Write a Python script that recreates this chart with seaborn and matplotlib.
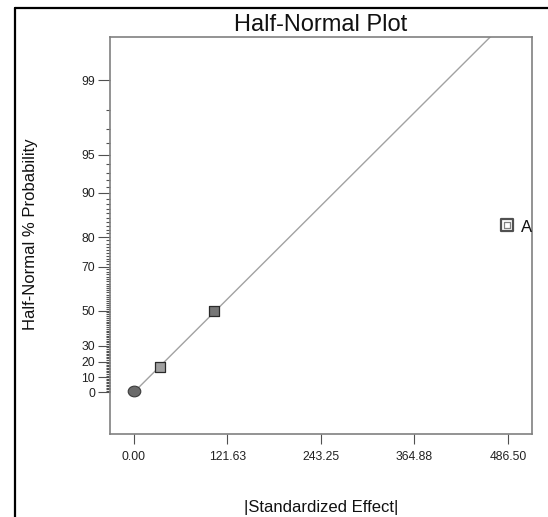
import numpy as np
import pandas as pd
import matplotlib
matplotlib.use("Agg")
import matplotlib.pyplot as plt
import seaborn as sns
from matplotlib.scale import FuncScale
from matplotlib.ticker import FixedLocator, FixedFormatter
from matplotlib.lines import Line2D
from matplotlib.path import Path
from statistics import NormalDist

# ---- data ----
effects = [0.0, 34.7, 104.1]          # |standardized effect| of non-significant terms
probs = [1.2, 16.7, 50.0]             # half-normal % probability
point_kind = ["error", "term", "term"]
sig_effects = [485.7]
sig_probs = [83.3]
sig_labels = ["A"]
line_x = [0.0, 485.0]
line_p = [0.0, 99.785]

x_ticks = [0.00, 121.63, 243.25, 364.88, 486.50]
y_major = [0, 10, 20, 30, 50, 70, 80, 90, 95, 99]
y_minor = [v for v in range(1, 99) if v not in y_major]

sns.set_theme(style="white")
plt.rcParams['font.family'] = ['Liberation Sans', 'DejaVu Sans']

nd = NormalDist()
_ppf = np.vectorize(lambda p: nd.inv_cdf(min(max(0.5 + p / 200.0, 1e-9), 1 - 1e-9)),
                    otypes=[float])
_cdf = np.vectorize(lambda z: 200.0 * nd.cdf(z) - 100.0, otypes=[float])


def fwd(p):
    return _ppf(np.asarray(p, dtype=float))


def inv(z):
    return _cdf(np.asarray(z, dtype=float))


fig = plt.figure(figsize=(5.48, 5.17), dpi=100)
ax = fig.add_axes([109.5 / 548, 1 - 434 / 517, (532 - 109.5) / 548, (434 - 37) / 517])
ax.set_yscale(FuncScale(ax, (fwd, inv)))

df_line = pd.DataFrame({"x": line_x, "p": line_p})
sns.lineplot(data=df_line, x="x", y="p", ax=ax, color="#a2a2a2", linewidth=1.0, zorder=1)

uc = Path.unit_circle()
ellipse = Path(uc.vertices * np.array([1.0, 0.85]), uc.codes)

df = pd.DataFrame({"x": effects, "p": probs, "kind": point_kind})
err = df[df.kind == "error"]
trm = df[df.kind == "term"]
sns.scatterplot(data=err, x="x", y="p", ax=ax, marker=ellipse, s=82, color="#6a6a6a",
                edgecolor="#3a3a3a", linewidth=0.8, zorder=3)
sns.scatterplot(data=trm.iloc[:1], x="x", y="p", ax=ax, marker="s", s=48, color="#a0a0a0",
                edgecolor="#2a2a2a", linewidth=0.9, zorder=3)
sns.scatterplot(data=trm.iloc[1:], x="x", y="p", ax=ax, marker="s", s=48, color="#767676",
                edgecolor="#2a2a2a", linewidth=0.9, zorder=3)

df_sig = pd.DataFrame({"x": sig_effects, "p": sig_probs, "lab": sig_labels})
sns.scatterplot(data=df_sig, x="x", y="p", ax=ax, marker="s", s=72, color="white",
                edgecolor="#505050", linewidth=1.6, zorder=3)
sns.scatterplot(data=df_sig, x="x", y="p", ax=ax, marker="s", s=22, color="white",
                edgecolor="#808080", linewidth=0.9, zorder=4)
for _, r in df_sig.iterrows():
    ax.annotate(r.lab, (r.x, r.p), xytext=(10, -2), textcoords="offset points",
                ha="left", va="center", fontsize=12, color="#111111")

ax.set_xlim(-31.6, 517.7)
ax.set_ylim(-26.9, 99.663)

ax.xaxis.set_major_locator(FixedLocator(x_ticks))
ax.xaxis.set_major_formatter(FixedFormatter([f"{v:.2f}" for v in x_ticks]))
ax.yaxis.set_major_locator(FixedLocator(y_major))
ax.yaxis.set_major_formatter(FixedFormatter([str(v) for v in y_major]))
ax.yaxis.set_minor_locator(FixedLocator(y_minor))
ax.xaxis.set_minor_locator(FixedLocator([]))

ax.tick_params(axis="both", which="major", direction="out", width=0.8,
               color="#505050", labelsize=8.7, labelcolor="#222222")
ax.tick_params(axis="x", which="major", length=7.5, pad=5, bottom=True)
ax.tick_params(axis="y", which="major", length=8.5, pad=2, left=True)
ax.tick_params(axis="y", which="minor", direction="out", length=3.1, width=0.8,
               color="#505050", left=True)

for s in ax.spines.values():
    s.set_color("#808080")
    s.set_linewidth(1.2)
    s.set_visible(True)

ax.set_xlabel("|Standardized Effect|", fontsize=12, color="#111111")
ax.xaxis.set_label_coords(0.5, -(512 - 434) / 397)
ax.xaxis.label.set_verticalalignment("baseline")
ax.set_ylabel("Half-Normal % Probability", fontsize=12, color="#111111")
ax.yaxis.set_label_coords(-(109.5 - 31) / 422.5, 0.504)
ax.yaxis.label.set_verticalalignment("center")
ax.set_title("Half-Normal Plot", fontsize=17, color="#111111", pad=4)

fig.add_artist(Line2D([15 / 548, 1.0], [1 - 7.5 / 517] * 2, color="black", linewidth=1.6,
                      transform=fig.transFigure))
fig.add_artist(Line2D([15 / 548] * 2, [0.0, 1 - 7.5 / 517], color="black", linewidth=1.6,
                      transform=fig.transFigure))

fig.savefig("out.png", dpi=100)
